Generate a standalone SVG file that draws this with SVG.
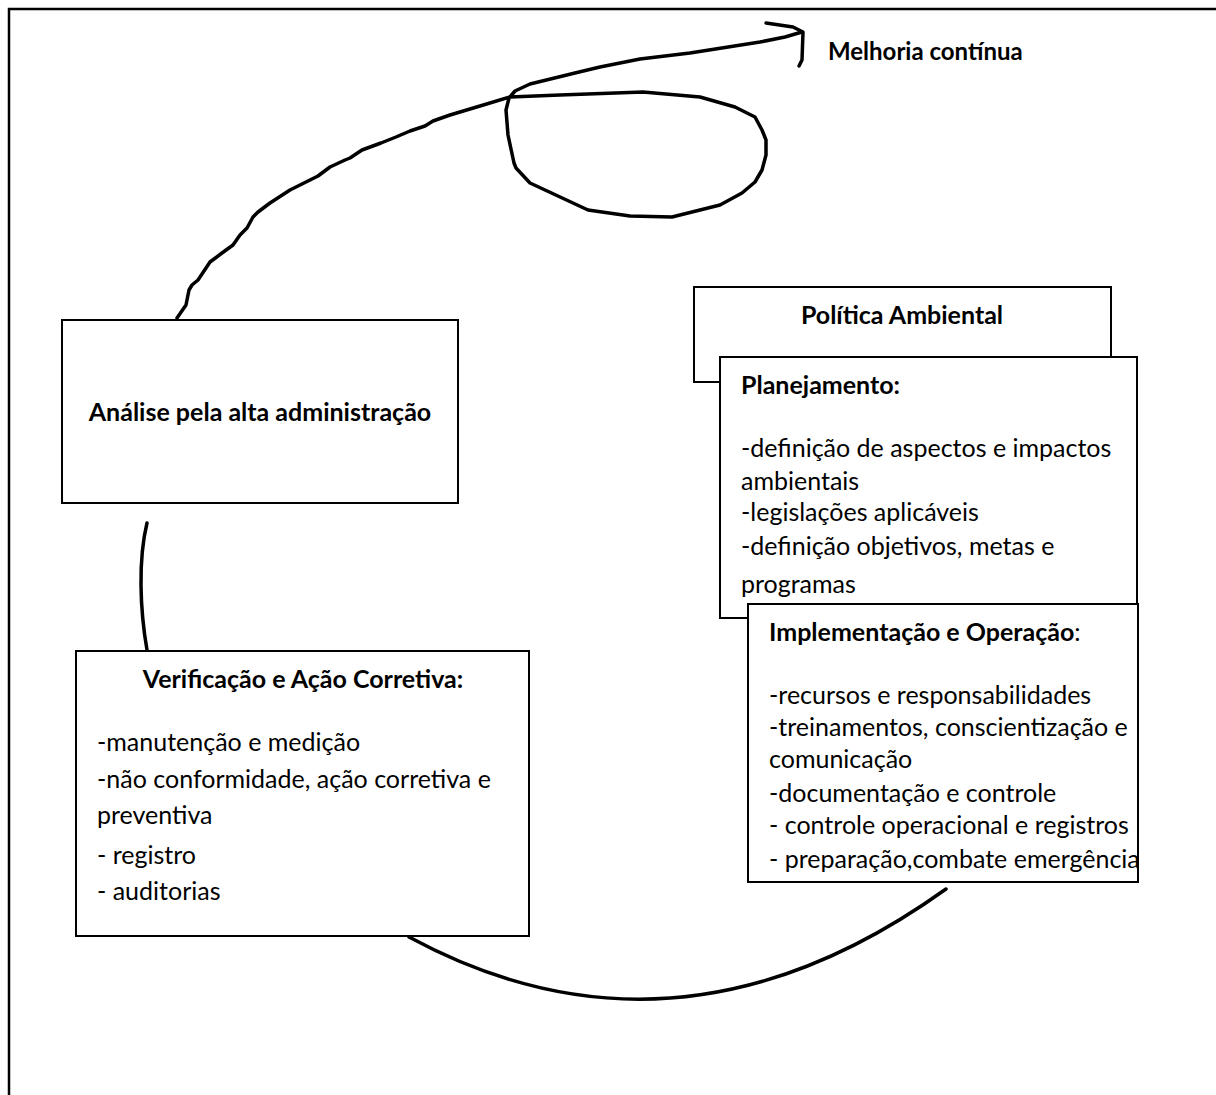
<svg xmlns="http://www.w3.org/2000/svg" width="1216" height="1095" viewBox="0 0 1216 1095">
<style>
.box{fill:#fff;stroke:#000;stroke-width:2}
.t{font-family:Lato,"Open Sans",sans-serif;font-size:25px;fill:#000}
.b{font-weight:bold}
.c{fill:none;stroke:#000;stroke-width:3.5;stroke-linecap:round;stroke-linejoin:round}
</style>
<rect width="1216" height="1095" fill="#fff"/>
<path d="M9 1095 V9 H1216" fill="none" stroke="#000" stroke-width="2.5"/>
<g id="connectors">
<path class="c" d="M177 318 L186 305 L189 290 L192 285 L198 280 L210 262 L222 253 L233 245 L240 235 L247 228 L253 217 L258 212 L270 203 L290 190 L318 176 L330 167 L345 160 L350 158 L362 150 L381 143 L396 137 L410 131 L425 126 L433 121 L450 115 L480 106 L510 97 L560 95 L643 92 L700 97 L735 107 L755 117 L762 130 L766 140 L766 155 L762 170 L755 182 L742 193 L720 205 L672 217 L630 216 L588 210 L530 183 L516 168 L514 163 L508 135 L506 110 L509 98 L515 91 L530 84 L575 73 L600 67 L640 59 L690 53 L760 42 L785 37 L802 32"/>
<path class="c" d="M766 23 L793 27 L803 32 L802 60 L799 66"/>
<path class="c" d="M147 523 C138 560, 140 610, 147 650"/>
<path class="c" d="M409 937 Q677 1082 946 889"/>
</g>
<g id="analise">
<rect class="box" x="62" y="320" width="396" height="183"/>
<text class="t b" x="260" y="421" text-anchor="middle">Análise pela alta administração</text>
</g>
<g id="melhoria">
<text class="t b" x="828" y="60" style="font-size:24px">Melhoria contínua</text>
</g>
<g id="politica">
<rect class="box" x="694" y="287" width="417" height="95"/>
<text class="t b" x="902" y="324" text-anchor="middle">Política Ambiental</text>
</g>
<g id="planejamento">
<rect class="box" x="720" y="357" width="417" height="261"/>
<text class="t b" x="741" y="394">Planejamento:</text>
<text class="t" x="741" y="457">-definição de aspectos e impactos</text>
<text class="t" x="741" y="490">ambientais</text>
<text class="t" x="741" y="521">-legislações aplicáveis</text>
<text class="t" x="741" y="555">-definição objetivos, metas e</text>
<text class="t" x="741" y="593">programas</text>
</g>
<g id="implementacao">
<rect class="box" x="748" y="604" width="390" height="278"/>
<text class="t" x="769" y="641"><tspan class="b">Implementação e Operação</tspan>:</text>
<text class="t" x="769" y="704">-recursos e responsabilidades</text>
<text class="t" x="769" y="736">-treinamentos, conscientização e</text>
<text class="t" x="769" y="768">comunicação</text>
<text class="t" x="769" y="802">-documentação e controle</text>
<text class="t" x="769" y="834">- controle operacional e registros</text>
<text class="t" x="769" y="868">- preparação,combate emergência</text>
</g>
<g id="verificacao">
<rect class="box" x="76" y="651" width="453" height="285"/>
<text class="t b" x="303" y="688" text-anchor="middle">Verificação e Ação Corretiva:</text>
<text class="t" x="97" y="751">-manutenção e medição</text>
<text class="t" x="97" y="788">-não conformidade, ação corretiva e</text>
<text class="t" x="97" y="824">preventiva</text>
<text class="t" x="97" y="864">- registro</text>
<text class="t" x="97" y="900">- auditorias</text>
</g>
</svg>
